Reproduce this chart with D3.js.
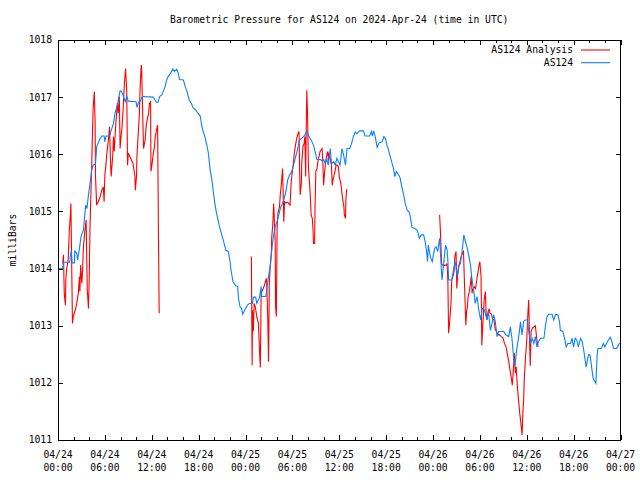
<!DOCTYPE html>
<html><head><meta charset="utf-8">
<script src="https://cdn.jsdelivr.net/npm/d3@7"></script>
<style>
body{margin:0;background:#fff;}
svg{display:block;}
text{font-family:"DejaVu Sans Mono","Liberation Mono",monospace;font-size:9.7px;fill:#000;}
</style></head><body>
<svg id="chart" width="640" height="480"></svg>
<script>
// ---- data (hours since 2024-04-24 00:00 UTC, pressure in mb) ----
const titleText = "Barometric Pressure for AS124 on 2024-Apr-24 (time in UTC)";
const yLabelText = "milliBars";
const seriesNames = ["AS124 Analysis", "AS124"];
const yTicks = [1011,1012,1013,1014,1015,1016,1017,1018];
const xTickHours = [0,6,12,18,24,30,36,42,48,54,60,66,72];
const xTickDates = ["04/24","04/24","04/24","04/24","04/25","04/25","04/25","04/25","04/26","04/26","04/26","04/26","04/27"];
const xTickTimes = ["00:00","06:00","12:00","18:00","00:00","06:00","12:00","18:00","00:00","06:00","12:00","18:00","00:00"];

const stationHours = [0,0.6,0.7,1.5,1.6,1.7,1.8,2.1,2.15,2.4,2.5,2.7,2.95,3.25,3.45,3.55,3.7,3.9,4.1,4.3,4.5,4.8,4.95,5.3,5.6,5.9,6.0,6.15,6.6,6.8,7.1,7.3,7.6,7.8,7.95,8.15,8.3,8.6,8.8,9.0,10.0,10.1,10.3,10.5,10.8,12.2,12.4,12.6,12.8,13.0,13.3,13.5,13.7,13.9,14.1,14.4,14.7,14.9,15.2,15.4,15.55,16.05,16.3,16.5,16.8,17.1,17.3,17.6,17.85,18.2,18.4,18.6,18.8,19.05,19.25,19.45,19.7,19.9,20.1,20.3,20.65,20.9,21.2,21.5,21.8,22.0,22.15,22.4,22.7,23.0,23.1,23.3,23.5,23.65,23.95,24.25,24.5,24.9,25.0,25.3,25.45,25.8,26.0,26.05,26.6,26.95,27.2,27.5,27.8,28.1,28.45,28.9,29.2,29.4,29.65,29.95,30.2,30.6,30.9,31.2,31.5,31.85,32.1,32.4,32.7,32.9,33.15,33.6,33.8,34.0,34.2,34.4,34.6,34.85,35.0,35.3,35.5,35.7,35.9,36.1,36.35,36.55,36.8,37.0,37.35,37.6,37.8,38.05,38.25,38.6,39.1,39.3,39.9,40.1,40.25,40.4,40.6,40.85,41.1,41.5,41.7,41.9,42.1,42.3,42.5,42.7,42.95,43.1,43.3,43.6,43.8,44.0,44.25,44.45,44.7,44.95,45.1,45.3,45.7,46.0,46.25,46.5,46.8,47.0,47.2,47.3,47.4,47.65,47.9,48.2,48.4,48.6,48.85,49.15,49.35,49.6,49.8,49.9,50.0,50.4,50.65,50.85,51.1,51.3,51.5,51.7,51.95,52.1,52.4,52.6,52.8,53.0,53.2,53.4,53.65,53.85,54.1,54.3,54.5,54.7,54.9,55.1,55.35,55.55,55.75,55.95,56.2,56.4,57.05,57.3,57.7,57.9,58.1,58.35,58.5,58.7,59.0,59.2,59.4,59.6,59.8,60.1,60.25,60.5,60.7,60.9,61.1,61.3,61.5,61.75,62.2,62.4,62.6,62.8,63.25,63.45,63.7,64.0,64.2,64.3,64.6,64.8,65.05,65.25,65.6,65.8,66.0,66.2,66.4,66.6,66.9,67.1,67.35,67.6,67.9,68.1,68.3,68.5,68.85,69.0,69.1,69.55,69.8,70.0,70.3,70.7,70.9,71.1,71.5,71.85,72.0];
const stationValues = [1014.00,1014.00,1014.11,1014.11,1014.25,1014.31,1014.10,1014.10,1014.31,1014.27,1014.15,1014.31,1014.56,1014.67,1014.97,1015.11,1015.05,1015.29,1015.49,1015.72,1015.81,1015.83,1016.13,1016.25,1016.32,1016.32,1016.22,1016.32,1016.32,1016.41,1016.54,1016.72,1016.86,1017.01,1017.11,1017.10,1017.04,1016.92,1017.01,1016.93,1016.92,1016.82,1016.91,1016.92,1017.01,1017.00,1016.95,1016.91,1016.91,1017.01,1017.04,1017.11,1017.18,1017.30,1017.36,1017.42,1017.49,1017.45,1017.49,1017.42,1017.31,1017.30,1017.18,1017.10,1016.95,1016.88,1016.81,1016.78,1016.73,1016.67,1016.50,1016.39,1016.31,1016.16,1016.02,1015.75,1015.55,1015.32,1015.12,1014.96,1014.75,1014.62,1014.47,1014.32,1014.30,1014.15,1013.97,1013.77,1013.71,1013.68,1013.48,1013.33,1013.30,1013.20,1013.29,1013.36,1013.39,1013.39,1013.50,1013.50,1013.39,1013.50,1013.69,1013.51,1013.51,1013.86,1014.09,1014.50,1014.73,1014.85,1015.05,1015.20,1015.37,1015.55,1015.64,1015.71,1015.84,1016.05,1016.25,1016.28,1016.32,1016.40,1016.32,1016.25,1016.16,1016.05,1015.91,1015.91,1015.88,1015.91,1015.84,1015.91,1015.81,1016.10,1015.84,1015.87,1015.81,1015.93,1015.87,1015.81,1016.10,1015.99,1015.81,1016.10,1016.10,1016.20,1016.31,1016.39,1016.36,1016.41,1016.41,1016.32,1016.32,1016.40,1016.32,1016.41,1016.31,1016.12,1016.20,1016.22,1016.31,1016.28,1016.16,1016.08,1015.97,1015.87,1015.75,1015.61,1015.70,1015.64,1015.58,1015.43,1015.29,1015.14,1015.02,1014.99,1014.91,1014.72,1014.70,1014.67,1014.53,1014.59,1014.59,1014.47,1014.27,1014.12,1014.41,1014.21,1014.12,1014.35,1014.38,1014.30,1014.53,1013.80,1014.06,1014.41,1014.33,1014.15,1013.80,1013.80,1014.00,1014.12,1013.86,1014.06,1014.08,1014.27,1014.59,1014.50,1014.35,1014.21,1014.06,1013.80,1013.63,1013.39,1013.51,1013.28,1013.10,1013.30,1013.30,1013.22,1013.10,1013.24,1012.92,1013.04,1013.19,1013.10,1012.81,1012.90,1012.90,1012.84,1012.81,1012.98,1012.78,1012.40,1012.31,1012.57,1012.84,1013.07,1012.84,1013.07,1013.10,1013.10,1012.90,1012.69,1012.78,1012.69,1012.81,1012.63,1012.72,1012.78,1012.78,1013.01,1013.16,1013.20,1013.20,1013.10,1013.20,1013.19,1013.07,1012.92,1012.90,1012.81,1012.63,1012.69,1012.69,1012.78,1012.63,1012.78,1012.75,1012.63,1012.78,1012.72,1012.52,1012.28,1012.49,1012.49,1012.28,1012.08,1011.99,1012.46,1012.60,1012.60,1012.69,1012.63,1012.72,1012.80,1012.72,1012.60,1012.60,1012.69,1012.69];

const analysis1Hours = [0.6,0.7,0.8,0.95,1.0,1.1,1.3,1.45,1.6,1.65,1.75,1.85,1.95,2.2,2.4,2.6,2.75,2.8,2.9,3.05,3.15,3.25,3.45,3.6,3.75,3.9,4.0,4.1,4.2,4.3,4.4,4.5,4.65,4.75,4.8,4.95,5.15,5.4,5.6,5.8,5.9,6.0,6.15,6.25,6.45,6.6,6.7,6.8,7.0,7.1,7.2,7.3,7.4,7.6,7.7,7.85,7.95,8.05,8.2,8.35,8.5,8.65,8.8,8.9,9.0,9.2,9.4,9.6,9.85,9.9,10.05,10.1,10.3,10.4,10.5,10.65,10.7,10.85,10.95,11.15,11.3,11.45,11.6,11.7,11.85,11.9,12.05,12.2,12.35,12.45,12.65,12.75,12.85,12.95];
const analysis1Values = [1014.09,1014.24,1013.57,1013.36,1013.80,1013.98,1014.15,1014.67,1014.97,1015.14,1014.09,1013.04,1013.16,1013.27,1013.39,1013.57,1013.86,1013.60,1014.06,1013.74,1013.97,1014.38,1014.67,1014.85,1013.62,1013.30,1013.86,1014.73,1015.26,1015.72,1016.31,1016.80,1017.10,1016.54,1015.61,1015.11,1015.17,1015.26,1015.37,1015.43,1015.17,1015.64,1015.84,1016.02,1016.24,1016.48,1015.96,1015.61,1015.96,1016.31,1016.05,1016.31,1016.54,1016.89,1016.72,1017.01,1016.10,1016.28,1016.48,1016.83,1017.24,1017.50,1017.10,1015.81,1016.02,1015.96,1015.90,1015.84,1015.61,1015.37,1015.61,1015.96,1016.43,1016.66,1017.12,1017.56,1017.53,1016.66,1016.10,1016.25,1016.51,1016.63,1016.72,1016.89,1016.92,1015.70,1015.84,1016.02,1016.13,1016.31,1016.45,1016.51,1014.73,1013.22];

const analysis2Hours = [24.75,24.85,24.9,25.0,25.1,25.25,25.45,25.65,25.8,25.9,26.0,26.2,26.4,26.6,26.7,26.85,26.95,27.05,27.15,27.3,27.35,27.5,27.6,27.65,27.8,27.85,27.95,28.05,28.15,28.35,28.45,28.6,28.7,28.75,28.9,29.0,29.15,29.4,29.7,29.85,30.0,30.15,30.25,30.4,30.6,30.75,30.85,30.92,31.0,31.15,31.2,31.35,31.5,31.6,31.7,31.75,31.85,31.95,32.05,32.2,32.3,32.4,32.55,32.65,32.7,32.85,32.9,33.0,33.15,33.25,33.45,33.55,33.7,33.8,33.9,34.0,34.1,34.25,34.45,34.55,34.6,34.7,35.0,35.1,35.2,35.4,35.5,35.6,35.75,35.9,36.0,36.2,36.3,36.45,36.6,36.65,36.8,36.85,36.95];
const analysis2Values = [1014.21,1012.31,1013.27,1012.90,1013.39,1013.33,1013.16,1013.04,1012.55,1012.27,1013.57,1013.63,1013.70,1013.80,1013.82,1013.13,1012.37,1013.74,1014.00,1014.27,1014.53,1014.79,1015.14,1015.00,1014.45,1013.33,1013.16,1014.73,1014.97,1015.08,1015.29,1015.49,1015.67,1015.75,1014.82,1015.17,1015.15,1015.16,1015.11,1015.52,1015.70,1015.87,1016.02,1016.16,1016.31,1016.37,1016.40,1015.78,1015.29,1015.49,1015.84,1016.13,1016.19,1016.31,1015.61,1016.25,1017.12,1016.66,1015.78,1015.49,1015.26,1014.94,1014.88,1014.67,1014.44,1014.44,1015.05,1015.70,1015.75,1015.86,1015.99,1016.05,1016.08,1016.10,1015.86,1015.46,1015.64,1015.87,1016.02,1016.05,1015.89,1016.02,1015.81,1015.46,1015.55,1015.67,1015.73,1015.81,1015.81,1015.78,1015.61,1015.49,1015.37,1015.20,1015.08,1014.94,1014.88,1015.20,1015.39];

const analysis3Hours = [48.85,48.95,49.1,49.2,49.4,49.7,49.8,49.9,50.0,50.1,50.2,50.3,50.4,50.55,50.7,50.8,50.95,51.05,51.15,51.3,51.4,51.5,51.6,51.75,51.9,52.05,52.2,52.3,52.4,52.5,52.65,52.8,52.9,53.0,53.1,53.3,53.45,53.6,53.7,53.9,54.0,54.15,54.25,54.35,54.45,54.55,54.7,54.8,54.9,55.05,55.2,55.3,55.5,55.6,55.8,55.95,56.2,56.35,56.5,56.75,56.95,57.15,57.35,57.5,57.7,57.85,58.0,58.15,58.3,58.4,58.55,58.65,58.8,58.95,59.1,59.25,59.4,59.5,59.6,59.7,59.85,60.0,60.1,60.25,60.35,60.45,60.55,60.7,60.9,61.1,61.3,61.45];
const analysis3Values = [1014.94,1014.65,1014.09,1014.06,1014.06,1014.06,1014.09,1013.80,1012.87,1013.01,1013.19,1013.39,1013.80,1013.86,1013.95,1014.21,1014.30,1013.65,1013.89,1014.03,1014.09,1014.15,1014.21,1014.27,1014.30,1013.65,1013.01,1013.25,1013.33,1013.51,1013.60,1013.74,1013.88,1013.57,1013.63,1013.68,1013.65,1013.80,1013.89,1014.06,1014.12,1013.86,1012.66,1012.95,1013.19,1013.45,1013.60,1013.22,1013.10,1013.24,1013.30,1013.22,1013.20,1013.13,1013.10,1012.95,1012.87,1012.84,1012.84,1012.81,1012.79,1012.69,1012.63,1012.52,1012.37,1012.23,1012.11,1011.96,1012.25,1012.52,1012.17,1012.28,1011.93,1011.70,1011.47,1011.29,1011.09,1011.47,1011.70,1012.11,1012.46,1012.75,1013.10,1013.45,1012.80,1012.30,1012.90,1012.95,1012.98,1013.00,1012.75,1012.63];

// ---- drawing ----
const svg = d3.select("#chart");
const L = 58, R = 620.5, T = 40, B = 440;
const t0 = Date.UTC(2024, 3, 24, 0, 0);
const toDate = h => new Date(t0 + h * 3600000);
const x = d3.scaleUtc().domain([toDate(0), toDate(72)]).range([L, R]);
const y = d3.scaleLinear().domain([1011, 1018]).range([B, T]);

const zip = (hs, vs) => hs.map((h, i) => ({t: toDate(h), v: vs[i]}));
const line = d3.line().x(d => x(d.t)).y(d => y(d.v));

const redColor = "#ff0000", blueColor = "#0a80ff";

const plot = svg.append("g");
[zip(analysis1Hours, analysis1Values), zip(analysis2Hours, analysis2Values), zip(analysis3Hours, analysis3Values)]
  .forEach(seg => plot.append("path").datum(seg).attr("d", line)
    .attr("fill", "none").attr("stroke", redColor).attr("stroke-width", 1.1));
plot.append("path").datum(zip(stationHours, stationValues)).attr("d", line)
  .attr("fill", "none").attr("stroke", blueColor).attr("stroke-width", 1.1);

// axes (ticks inward, mirrored)
const minorHours = d3.range(0, 73, 2).filter(h => h % 6 !== 0);
const ax = svg.append("g").attr("shape-rendering", "crispEdges");
function xAxisTicks(sel, hours, size) {
  sel.append("g").attr("transform", `translate(0,${B})`)
    .call(d3.axisBottom(x).tickValues(hours.map(toDate)).tickSize(-size).tickFormat(""))
    .call(g => g.select(".domain").remove());
  sel.append("g").attr("transform", `translate(0,${T})`)
    .call(d3.axisTop(x).tickValues(hours.map(toDate)).tickSize(-size).tickFormat(""))
    .call(g => g.select(".domain").remove());
}
xAxisTicks(ax, xTickHours, 5);
xAxisTicks(ax, minorHours, 3);
ax.append("g").attr("transform", `translate(${L},0)`)
  .call(d3.axisLeft(y).tickValues(yTicks).tickSize(-5).tickFormat(""))
  .call(g => g.select(".domain").remove());
ax.append("g").attr("transform", `translate(${R},0)`)
  .call(d3.axisRight(y).tickValues(yTicks).tickSize(-5).tickFormat(""))
  .call(g => g.select(".domain").remove());
ax.selectAll(".tick line").attr("stroke", "#000");
ax.append("rect").attr("x", L).attr("y", T).attr("width", R - L).attr("height", B - T)
  .attr("fill", "none").attr("stroke", "#000");

// labels
svg.append("g").selectAll("text").data(yTicks).join("text")
  .attr("x", 52).attr("y", d => y(d)).attr("dy", "0.35em").attr("text-anchor", "end")
  .text(d => d);
const xl = svg.append("g").selectAll("g").data(xTickHours).join("g")
  .attr("transform", h => `translate(${x(toDate(h))},0)`);
xl.append("text").attr("y", 458).attr("text-anchor", "middle").text((h, i) => xTickDates[i]);
xl.append("text").attr("y", 471).attr("text-anchor", "middle").text((h, i) => xTickTimes[i]);

svg.append("text").attr("x", (L + R) / 2).attr("y", 23).attr("text-anchor", "middle").text(titleText);
svg.append("text").attr("transform", `translate(15.5,${(T + B) / 2}) rotate(-90)`)
  .attr("text-anchor", "middle").text(yLabelText);

// legend
const legend = svg.append("g");
[redColor, blueColor].forEach((c, i) => {
  const ly = 50 + i * 12.7;
  legend.append("text").attr("x", 573).attr("y", ly).attr("dy", "0.35em")
    .attr("text-anchor", "end").text(seriesNames[i]);
  legend.append("line").attr("x1", 581).attr("x2", 610).attr("y1", ly).attr("y2", ly)
    .attr("stroke", c).attr("stroke-width", 1.1);
});
</script>
</body></html>
